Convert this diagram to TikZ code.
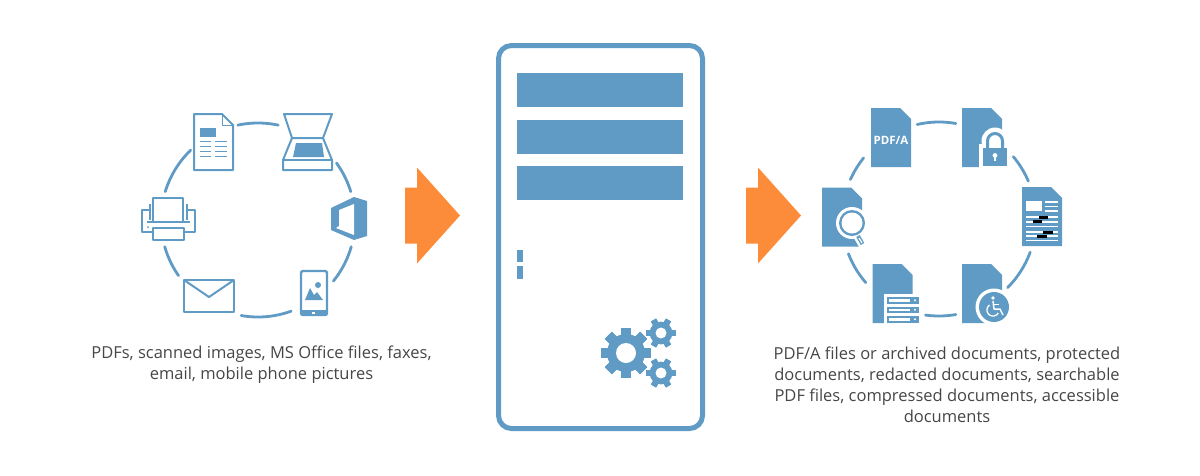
\documentclass[tikz,border=0pt]{standalone}
\usepackage{fontspec}
\setmainfont{Open Sans}
\usetikzlibrary{positioning}
\definecolor{iconblue}{HTML}{5F9BC4}
\definecolor{arroworange}{HTML}{FC8C3A}
\definecolor{captiongray}{HTML}{464646}
\tikzset{
  caption/.style={
    align=center,
    text=captiongray,
    inner sep=0pt,
    font=\fontsize{16.5}{21}\selectfont
  },
  ringline/.style={draw=iconblue,line width=2.8pt,line cap=round},
  outline/.style={draw=iconblue,line width=2pt,line join=round},
  pics/filleddoc/.style={code={
    \fill[iconblue] (0,0) -- (29,0) -- (40,11) -- (40,59) -- (0,59) -- cycle;
  }},
  pics/bigarrow/.style={code={
    \fill[arroworange] (0,20) -- (12,20) -- (12,0) -- (55,48) -- (12,96) -- (12,76) -- (0,76) -- cycle;
  }},
  pics/gear/.style n args={3}{code={
    \foreach \t in {1,...,#2} {
      \fill[iconblue,rotate=360/#2*\t+90] (-#1*0.2,-#1) rectangle (#1*0.2,#1);
    }
    \fill[iconblue] (0,0) circle[radius=#1*0.76];
    \fill[white] (0,0) circle[radius=#3];
  }}
}
\begin{document}
\begin{tikzpicture}[x=1pt,y=-1pt]
  \useasboundingbox (0,0) rectangle (1200,475);
  % rings
  \foreach \a/\b in {-102/-78,-36/-17,16/39,70/100,145/164,197/226} {
    \draw[ringline] plot[domain=\a:\b,samples=16] ({258+97*cos(\x)},{220+97*sin(\x)});
  }
  \foreach \a/\b in {-103/-80,-40/-23,20/45,80/98,139/159,204/219} {
    \draw[ringline] plot[domain=\a:\b,samples=16] ({939+97*cos(\x)},{219+97*sin(\x)});
  }
  % source document
  \draw[outline] (194,114) -- (222,114) -- (233,125) -- (233,170) -- (194,170) -- cycle;
  \draw[outline,line width=1pt] (222,114) -- (222,125) -- (233,125);
  \fill[iconblue] (200,128) rectangle (216,137);
  \foreach \y in {141.5,146.5,151.5,156.5} {
    \draw[iconblue,line width=1.6pt] (200,\y) -- (211,\y) (215,\y) -- (227,\y);
  }
  % scanner
  \draw[outline] (284,114) -- (332,114) -- (323,138) -- (292,138) -- cycle;
  \draw[outline] (292,138) -- (283,160) -- (283,170) -- (332,170) -- (332,160) -- (323,138);
  \draw[outline] (283,160) -- (332,160);
  \fill[iconblue] (296,143) -- (322,143) -- (324,157) -- (293,157) -- cycle;
  % office
  \fill[iconblue] (331,208) -- (354,197) -- (367,201) -- (367,236) -- (354,240) -- (331,230) -- cycle;
  \fill[white] (339,210) -- (354,204) -- (354,235) -- (336,228) -- (339,226) -- cycle;
  % phone
  \draw[outline,line width=2.4pt,rounded corners=2pt,fill=white] (301,271) rectangle (327,315);
  \fill[iconblue] (301,310) rectangle (327,315);
  \fill[white] (311.5,311.5) rectangle (314.5,314);
  \fill[iconblue] (305,300) -- (310,288) -- (314,295) -- (317,292) -- (323,300) -- cycle;
  \fill[iconblue] (318,285) circle[radius=3];
  % mail
  \draw[outline] (184,280) rectangle (234,312);
  \draw[outline] (184,280) -- (209,297) -- (234,280);
  % printer
  \draw[outline] (153,198) rectangle (183,222);
  \draw[outline] (153,232) -- (142,232) -- (142,210) -- (150,210) (150,204) -- (150,220);
  \draw[outline] (184,232) -- (195,232) -- (195,210) -- (187,210) (187,204) -- (187,220);
  \draw[outline] (147,222) -- (190,222);
  \draw[outline,fill=white] (153,228) rectangle (184,240);
  \fill[iconblue] (148,227) circle[radius=1];
  % arrows
  \pic at (405,167.5) {bigarrow};
  \pic at (746,167.5) {bigarrow};
  % server
  \draw[draw=iconblue,line width=5pt,rounded corners=13pt] (498.5,45.5) rectangle (702.5,428.5);
  \foreach \y in {73,120,166} {
    \fill[iconblue] (517,\y) rectangle (683,\y+34);
  }
  \fill[iconblue] (517,250) rectangle (523,262);
  \fill[iconblue] (517,266) rectangle (523,278.5);
  \pic at (626,353) {gear={25}{8}{10}};
  \pic at (661,333) {gear={15}{6}{5.5}};
  \pic at (661,373) {gear={15}{6}{5.5}};
  % pdf/a document
  \pic at (871,108) {filleddoc};
  \node[text=white,inner sep=0pt,font=\bfseries\fontsize{11.5}{11.5}\selectfont] (pdfa) at (891,140) {PDF/A};
  % protected document
  \pic at (962,108) {filleddoc};
  \fill[white] (995,141) circle[radius=13.5];
  \fill[white] (979,144) rectangle (1012,170);
  \draw[iconblue,line width=3pt] (987.5,149) -- (987.5,141) arc[start angle=180,end angle=360,radius=7.5] -- (1002.5,149);
  \fill[iconblue] (983,148) rectangle (1007,166);
  \fill[white] (995,155.5) circle[radius=2.4];
  \fill[white] (994,156) rectangle (996,161);
  % redacted document
  \fill[iconblue] (1022,187) -- (1051,187) -- (1062,198) -- (1062,246) -- (1022,246) -- cycle;
  \fill[white] (1026,201) rectangle (1042,211);
  \foreach \y in {202,206.5,211} {
    \draw[white,line width=1.2pt] (1045,\y) -- (1058,\y);
  }
  \foreach \y in {217,222,226.5,232,236,240.5} {
    \draw[white,line width=1.2pt] (1026,\y) -- (1058,\y);
  }
  \fill[black] (1039,216) rectangle (1048,219);
  \fill[black] (1033,220) rectangle (1042,223);
  \fill[black] (1043,231) rectangle (1053,234);
  \fill[black] (1037,235) rectangle (1047,238);
  % accessible document
  \pic at (962,264) {filleddoc};
  \fill[white] (994,307) circle[radius=18.5];
  \fill[iconblue] (994,307) circle[radius=15];
  \fill[white] (993,298) circle[radius=1.8];
  \draw[white,line width=1.5pt,line join=round] (993,301) -- (994,309) -- (1000,309) -- (1003,315);
  \draw[white,line width=1.2pt] (994,304.5) -- (999,304.5);
  \draw[white,line width=1.3pt] plot[domain=30:235,samples=20] ({993+6*cos(\x)},{310+6*sin(\x)});
  % compressed document
  \pic at (872.5,264) {filleddoc};
  \fill[white] (884,294) rectangle (923,326);
  \foreach \y in {297,306.5,316} {
    \fill[iconblue] (887,\y) rectangle (919,\y+6.5);
    \fill[white] (889,\y+2) rectangle (910,\y+4.5);
    \fill[white] (915,\y+3.2) circle[radius=1.1];
  }
  % searchable document
  \pic at (822,187.5) {filleddoc};
  \draw[white,line width=9pt,line cap=round] (858,236) -- (863,245);
  \fill[white] (852,223) circle[radius=16];
  \fill[iconblue] (852,223) circle[radius=13];
  \fill[white] (852,223) circle[radius=10.5];
  \draw[iconblue,line width=4pt] (858,236) -- (862.5,244);
  \draw[white,line width=1.2pt] (859,238) -- (862,243);
  % captions
  \node[caption] (incaption) at (261.5,365) {PDFs, scanned images, MS Office files, faxes,\\email, mobile phone pictures};
  \node[caption] (outcaption) at (947,385) {PDF/A files or archived documents, protected\\documents, redacted documents, searchable\\PDF files, compressed documents, accessible\\documents};
\end{tikzpicture}
\end{document}
